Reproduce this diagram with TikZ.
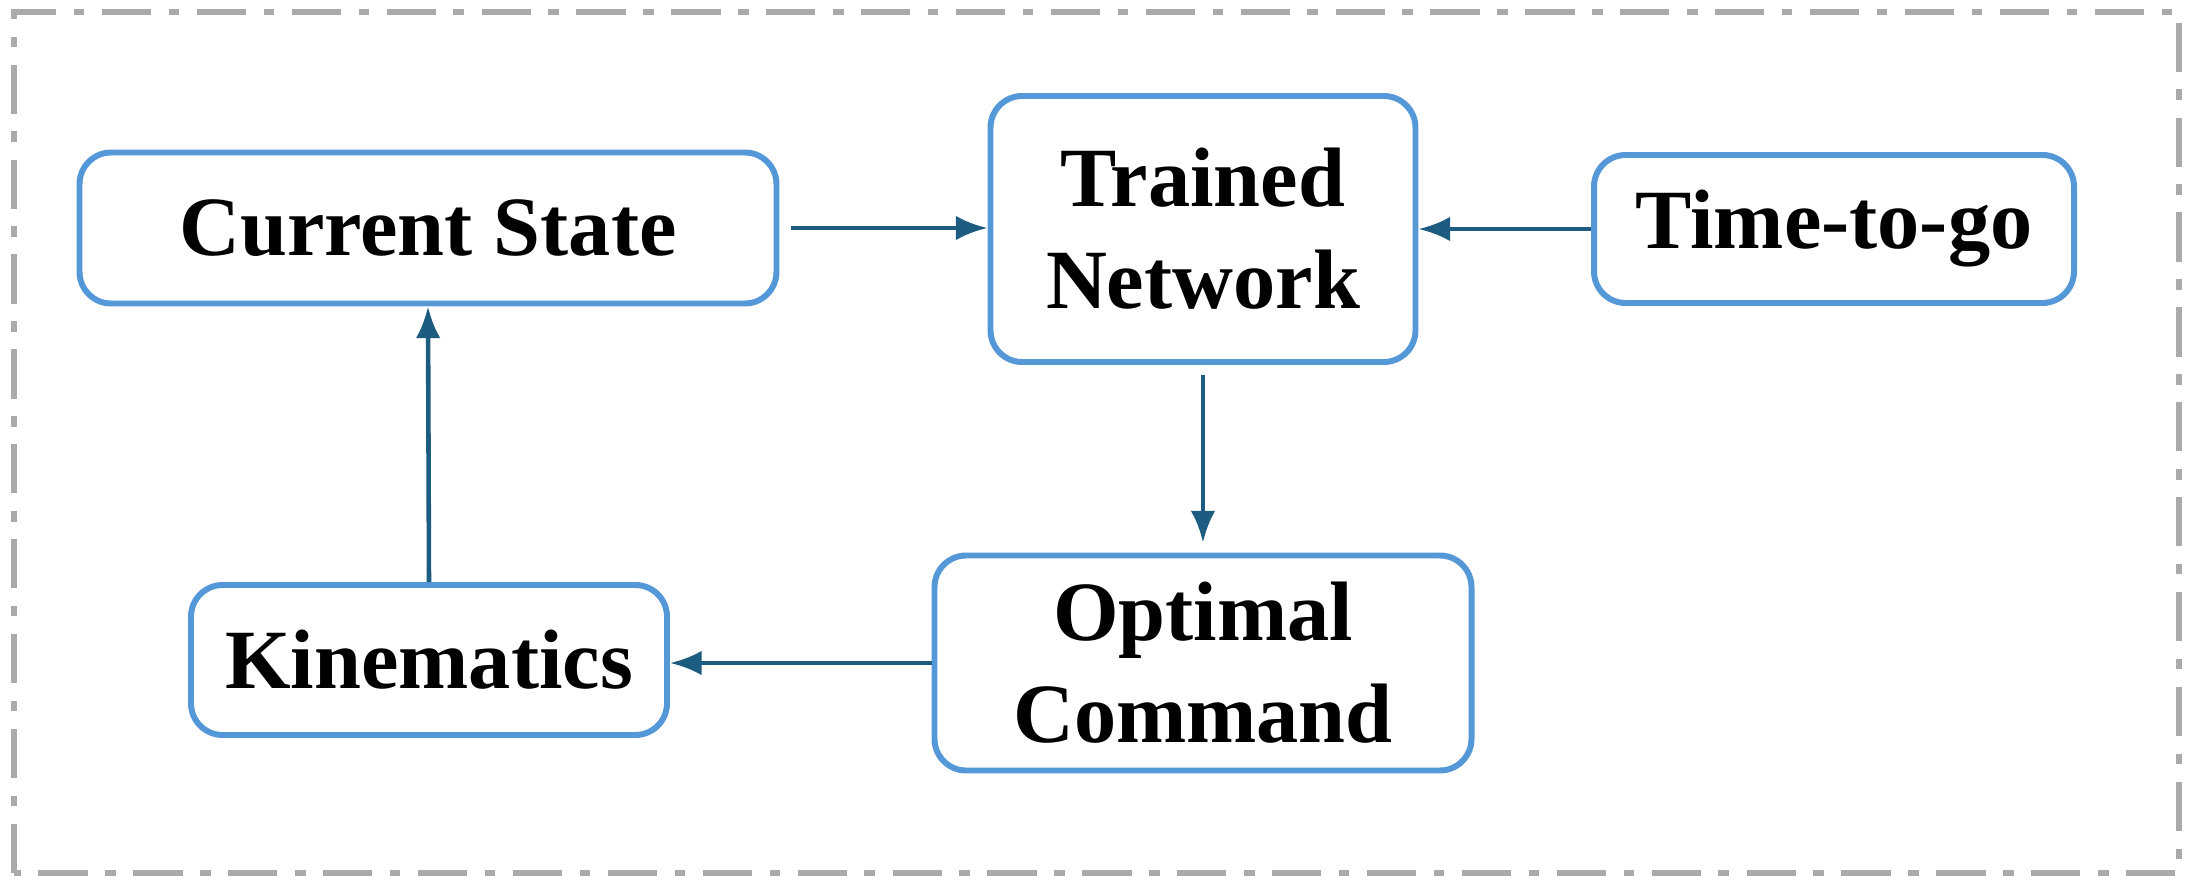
\documentclass[tikz,border=0pt]{standalone}
\usepackage{fontspec}
\setmainfont{Liberation Serif}
\usetikzlibrary{positioning}
\usetikzlibrary{arrows.meta}
\definecolor{boxblue}{RGB}{84,152,216}
\definecolor{arrowteal}{RGB}{28,92,128}
\definecolor{framegray}{RGB}{170,170,170}
\begin{document}
\begin{tikzpicture}[
block/.style={draw=boxblue,line width=1.7pt,rounded corners=9pt,fill=white,
  align=center,font=\fontsize{24}{29}\selectfont\bfseries,inner sep=0pt},
    flow/.style={draw=arrowteal,line width=1.3pt,-{Latex[length=9pt,width=7pt]}}]
\useasboundingbox (0,0) rectangle (21.93,8.94);
\draw[framegray,line width=1.6pt,dash pattern=on 14pt off 5pt on 3pt off 5pt]
  (0.14,0.21) rectangle (21.79,8.82);
\node[block,minimum width=6.97cm,minimum height=1.51cm] (state) at (4.28,6.66) {Current State};
\node[block,minimum width=4.25cm,minimum height=2.66cm] (net) at (12.03,6.65) {Trained\\Network};
\node[block,minimum width=4.80cm,minimum height=1.48cm] (tgo) at (18.34,6.65) {Time-to-go};
\node[block,minimum width=4.76cm,minimum height=1.50cm] (kin) at (4.29,2.34) {Kinematics};
\node[block,minimum width=5.37cm,minimum height=2.15cm] (cmd) at (12.03,2.31) {Optimal\\Command};

\draw[flow,shorten <=0.12cm] (state.east) -- (net.west |- state.east);
\draw[flow] (tgo.west) -- (net.east |- tgo.west);
\draw[flow,shorten <=0.1cm,shorten >=0.1cm] (net.south) -- (cmd.north);
\draw[flow] (cmd.west) -- (kin.east |- cmd.west);
\draw[flow] (kin.north) -- (state.south);
\end{tikzpicture}
\end{document}
